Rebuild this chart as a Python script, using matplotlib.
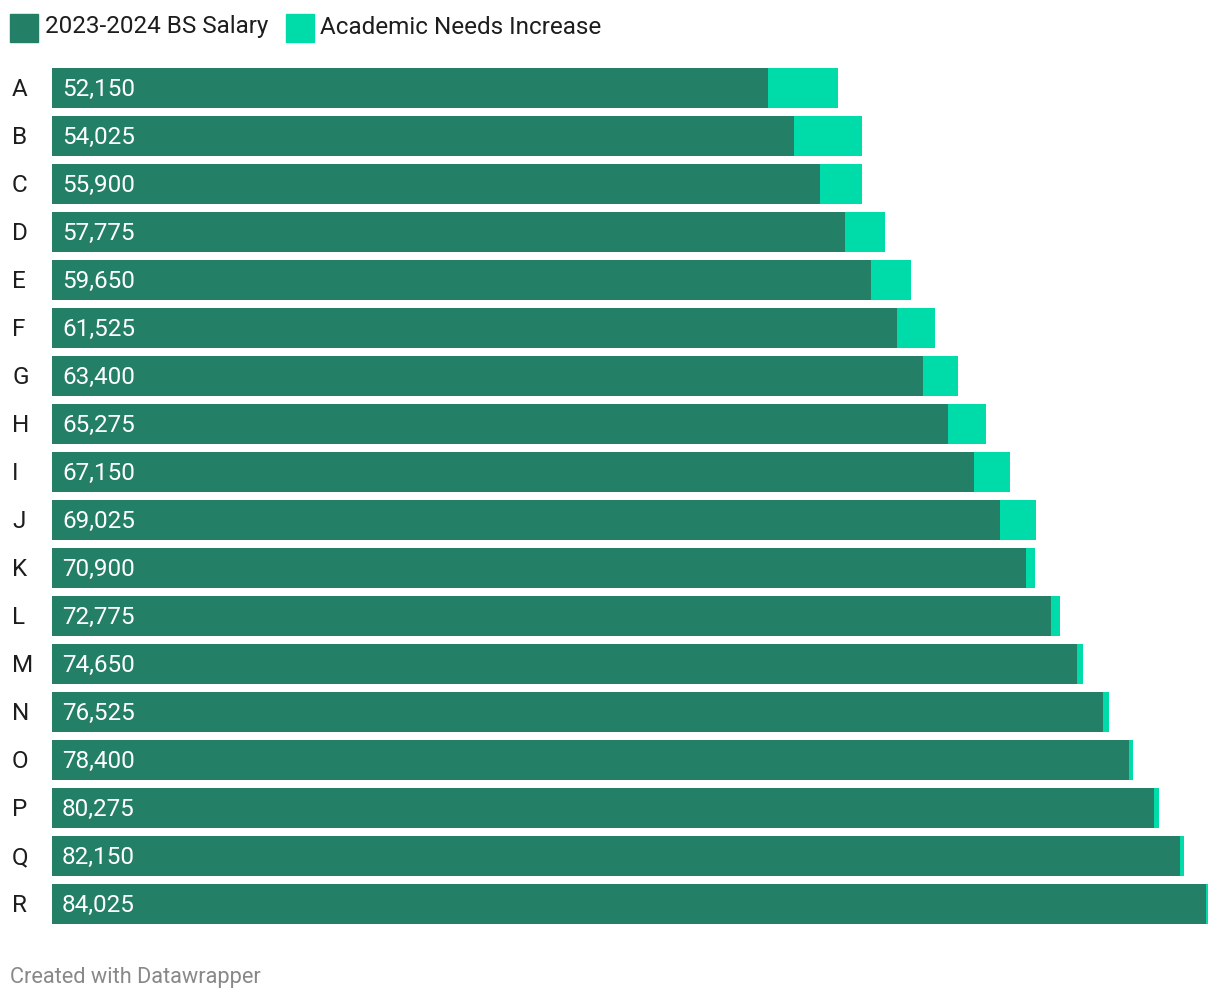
import numpy as np
import matplotlib.pyplot as plt
from matplotlib.patches import Rectangle

plt.rcParams['font.family'] = ['Roboto', 'DejaVu Sans']

# data
labels = list('ABCDEFGHIJKLMNOPQR')
salary = [52150, 54025, 55900, 57775, 59650, 61525, 63400, 65275, 67150,
          69025, 70900, 72775, 74650, 76525, 78400, 80275, 82150, 84025]
increase = [5100, 4950, 3050, 2900, 2900, 2750, 2600, 2750, 2600,
            2600, 700, 600, 450, 450, 300, 300, 300, 150]

dark = '#247f67'
light = '#00dca9'
fs = 17.5

W, H = 1220, 1002
fig = plt.figure(figsize=(W / 100, H / 100), dpi=100)

# axes placed in pixel terms: bars from x=52 to 1208, rows from y=64 to 928
left, right, top, bottom = 52, 1208, 64, 928
ax = fig.add_axes([left / W, 1 - bottom / H, (right - left) / W, (bottom - top) / H])

y = np.arange(len(labels))
ax.barh(y, salary, height=0.833, color=dark, linewidth=0)
ax.barh(y, increase, left=salary, height=0.833, color=light, linewidth=0)

xmax = max(s + i for s, i in zip(salary, increase))
ax.set_xlim(0, xmax)
ax.set_ylim(len(labels) - 0.5, -0.5)
ax.axis('off')

px = xmax / (right - left)  # data units per pixel
for yi, lab, s in zip(y, labels, salary):
    ax.text(-40 * px, yi + 0.03, lab, ha='left', va='center',
            fontsize=fs, color='#1d1d1d')
    ax.text(10 * px, yi + 0.03, f'{s:,}', ha='left',
            va='center', fontsize=fs, color='white')

# legend drawn as in the original (squares + text)
fig.patches.append(Rectangle((10 / W, 1 - 42 / H), 28 / W, 28 / H,
                             transform=fig.transFigure, color=dark))
fig.text(45 / W, 1 - 27 / H, '2023-2024 BS Salary', fontsize=fs,
         va='center', ha='left', color='#1d1d1d')
fig.patches.append(Rectangle((286 / W, 1 - 42 / H), 28 / W, 28 / H,
                             transform=fig.transFigure, color=light))
fig.text(320 / W, 1 - 27 / H, 'Academic Needs Increase', fontsize=fs,
         va='center', ha='left', color='#1d1d1d')

fig.text(10 / W, 1 - 977 / H, 'Created with Datawrapper', fontsize=15.7,
         va='center', ha='left', color='#888888')

fig.savefig('out.png', dpi=100)
